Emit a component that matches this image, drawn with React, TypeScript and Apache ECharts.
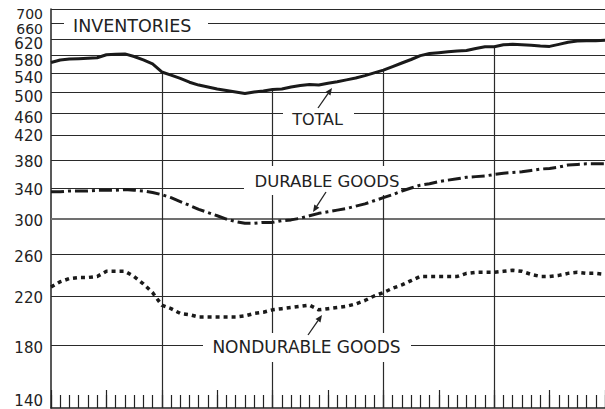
import React, { useEffect, useRef } from 'react';
import * as echarts from 'echarts';

// Monthly inventories (billions), month index 0..60 across five years
const totalInventories = [
  564, 570, 572, 573, 574, 575, 582, 583, 584, 578, 570, 561,
  543, 536, 529, 521, 515, 511, 507, 504, 501, 498, 501, 503,
  506, 507, 511, 514, 516, 515, 519, 522, 526, 530, 535, 541,
  547, 555, 563, 571, 580, 585, 587, 589, 591, 592, 597, 601,
  601, 606, 607, 606, 605, 603, 602, 607, 612, 615, 616, 616,
  617,
];
const durableGoods = [
  335, 335, 336, 336, 336, 337, 337, 337, 338, 337, 336, 334,
  331, 327, 322, 317, 312, 308, 304, 300, 297, 295, 295, 296,
  296, 298, 299, 301, 304, 307, 309, 311, 313, 316, 319, 323,
  327, 331, 336, 340, 344, 346, 349, 351, 353, 355, 356, 357,
  359, 361, 362, 363, 365, 367, 368, 370, 373, 374, 375, 375,
  375,
];
const nondurableGoods = [
  228, 233, 236, 237, 237, 238, 243, 243, 243, 238, 231, 223,
  212, 209, 205, 204, 202, 202, 202, 202, 202, 203, 205, 206,
  208, 209, 210, 211, 212, 208, 209, 210, 211, 213, 216, 220,
  223, 227, 230, 234, 238, 238, 238, 238, 238, 241, 242, 242,
  242, 243, 244, 243, 240, 238, 238, 239, 241, 242, 241, 241,
  240,
];
const yTickValues = [700, 660, 620, 580, 540, 500, 460, 420, 380, 340, 300, 260, 220, 180, 140];
const yearBoundaries = [12, 24, 36, 48];

const FONT = '"DejaVu Sans", sans-serif';
const INK = '#222';

export default function App() {
  const ref = useRef<HTMLDivElement>(null);
  useEffect(() => {
    const chart = echarts.init(ref.current!, null, { renderer: 'svg' });
    const toPairs = (arr: number[]) => arr.map((v, i) => [i, v]);
    const gridLines = yTickValues
      .filter((v) => v !== 140)
      .map((v) => ({
        yAxis: v,
        lineStyle: v === 300 ? { color: '#707070', width: 2 } : { color: '#2a2a2a', width: 1.2 },
      }));
    const vLines = yearBoundaries.map((m) => [
      { coord: [m, 140] },
      { coord: [m, totalInventories[m]] },
    ]);

    chart.setOption({
      animation: false,
      grid: { left: 51, right: 0, top: 9, bottom: 1 },
      xAxis: [
        {
          type: 'value', min: 0, max: 60, interval: 1,
          axisLine: { show: true, lineStyle: { color: INK, width: 1.5 } },
          axisTick: { show: true, inside: true, length: 13, lineStyle: { color: INK, width: 1.2 } },
          axisLabel: { show: false }, splitLine: { show: false },
        },
        {
          type: 'value', min: 0, max: 60, interval: 6, position: 'bottom',
          axisLine: { show: false },
          axisTick: { show: true, inside: true, length: 18, lineStyle: { color: INK, width: 1.2 } },
          axisLabel: { show: false }, splitLine: { show: false },
        },
      ],
      yAxis: {
        type: 'log', logBase: 10, min: 140, max: 700,
        axisLine: { show: true, lineStyle: { color: INK, width: 1.5 } },
        axisTick: { show: false }, axisLabel: { show: false }, splitLine: { show: false },
      },
      series: [
        {
          type: 'line', data: toPairs(totalInventories), symbol: 'none', silent: true, z: 1,
          lineStyle: { opacity: 0 },
          markLine: {
            silent: true, symbol: 'none', label: { show: false },
            lineStyle: { color: '#2a2a2a', width: 1.2, type: 'solid' },
            emphasis: { disabled: true },
            data: [...gridLines, ...vLines],
          },
        },
        {
          name: 'Total', type: 'line', data: toPairs(totalInventories), symbol: 'none', z: 10,
          lineStyle: { color: '#1a1a1a', width: 3 },
        },
        {
          name: 'Durable goods', type: 'line', data: toPairs(durableGoods), symbol: 'none', z: 10,
          lineStyle: { color: '#1a1a1a', width: 3, type: [13, 4, 3, 4] },
        },
        {
          name: 'Nondurable goods', type: 'line', data: toPairs(nondurableGoods), symbol: 'none', z: 10,
          lineStyle: { color: '#1a1a1a', width: 3.5, type: [4, 4] },
        },
      ],
    });

    // crowded top labels sit just under their grid lines, the bottom one above the axis
    const labelOffset = (v: number) => (v === 140 ? -7 : v === 700 ? 4.5 : v >= 460 ? 5 : v === 420 ? 0 : 2);
    const labelSize = (v: number) => (v >= 660 ? 14 : 15);
    const yLabels = yTickValues.map((v) => {
      const y = chart.convertToPixel({ yAxisIndex: 0 }, v) as number;
      return {
        type: 'text', x: 43, y: y + labelOffset(v), z: 50,
        style: { text: String(v), fontSize: labelSize(v), fontFamily: FONT, fill: INK, align: 'right', verticalAlign: 'middle' },
      };
    });

    const arrow = (x1: number, y1: number, x2: number, y2: number) => {
      const dx = x2 - x1, dy = y2 - y1;
      const len = Math.hypot(dx, dy);
      const ux = dx / len, uy = dy / len;
      const nx = -uy, ny = ux;
      const bx = x2 - ux * 7, by = y2 - uy * 7;
      return [
        { type: 'line', z: 50, shape: { x1, y1, x2: bx, y2: by }, style: { stroke: INK, lineWidth: 1.3 } },
        {
          type: 'polygon', z: 50,
          shape: { points: [[x2, y2], [bx + nx * 3, by + ny * 3], [bx - nx * 3, by - ny * 3]] },
          style: { fill: INK },
        },
      ];
    };

    const box = (x: number, y: number, w: number, h: number) => ({
      type: 'rect', z: 5, shape: { x, y, width: w, height: h }, style: { fill: '#fff' },
    });
    const label = (text: string, x: number, y: number, size: number, align = 'center') => ({
      type: 'text', x, y, z: 50,
      style: { text, fontSize: size, fontFamily: FONT, fill: INK, align, verticalAlign: 'middle' },
    });

    chart.setOption({
      graphic: [
        ...yLabels,
        box(64, 14, 144, 22),
        label('INVENTORIES', 73, 26, 17.5, 'left'),
        box(283, 104, 71, 28),
        label('TOTAL', 317.5, 119, 16),
        ...arrow(318, 108, 332, 88),
        box(244, 166, 157, 29),
        label('DURABLE GOODS', 327, 181, 16.5),
        ...arrow(326, 192, 313, 212),
        box(203, 333, 208, 29),
        label('NONDURABLE GOODS', 306.5, 347, 17),
        ...arrow(308, 335, 322, 315),
      ],
    });

    return () => chart.dispose();
  }, []);

  return (
    <div
      ref={ref}
      style={{ position: 'absolute', left: 0, top: 0, width: 605, height: 409, background: '#fff' }}
    />
  );
}
